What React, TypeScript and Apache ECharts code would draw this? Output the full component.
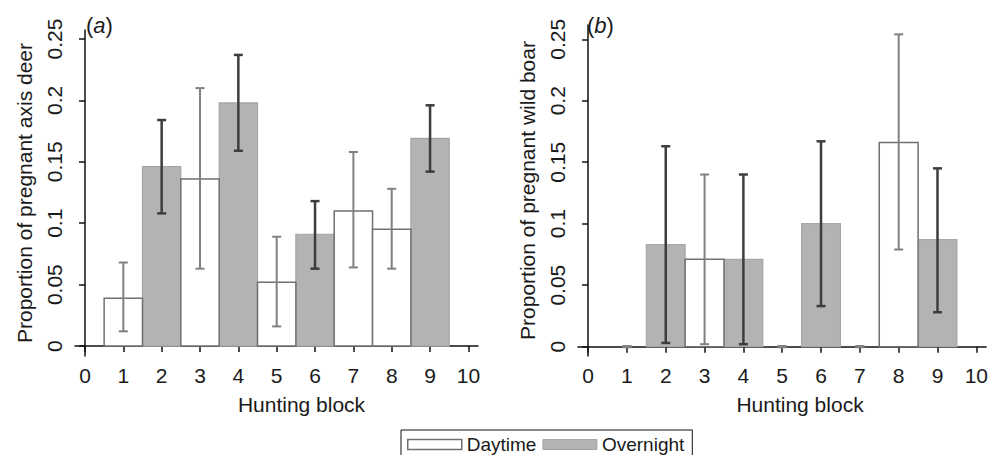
import React, { useEffect, useRef } from "react";
import * as echarts from "echarts";

// Panel (a): axis deer
const aDayBlocks = [1, 3, 5, 7, 8];
const aDayValues = [0.039, 0.136, 0.052, 0.110, 0.095];
const aDayLow = [0.012, 0.063, 0.016, 0.064, 0.063];
const aDayHigh = [0.068, 0.210, 0.089, 0.158, 0.128];

const aNightBlocks = [2, 4, 6, 9];
const aNightValues = [0.146, 0.198, 0.091, 0.169];
const aNightLow = [0.108, 0.159, 0.063, 0.142];
const aNightHigh = [0.184, 0.237, 0.118, 0.196];

// Panel (b): wild boar
const bDayBlocks = [1, 3, 5, 7, 8];
const bDayValues = [0, 0.071, 0, 0, 0.166];
const bDayLow = [0, 0.002, 0, 0, 0.079];
const bDayHigh = [0, 0.140, 0, 0, 0.254];

const bNightBlocks = [2, 4, 6, 9];
const bNightValues = [0.083, 0.071, 0.100, 0.087];
const bNightLow = [0.003, 0.002, 0.033, 0.028];
const bNightHigh = [0.163, 0.140, 0.167, 0.145];

const xTicks = [0, 1, 2, 3, 4, 5, 6, 7, 8, 9, 10];
const yTicks = [0, 0.05, 0.1, 0.15, 0.2, 0.25];

const FONT = "'Liberation Sans', Arial, Helvetica, sans-serif";
const TXT = "#1a1a1a";
const DAY_STROKE = "#707070";
const NIGHT_FILL = "#b3b3b3";
const NIGHT_STROKE = "#a6a6a6";
const DAY_ERR = "#808080";
const NIGHT_ERR = "#3d3d3d";
const TICK_FS = 21;
const TITLE_FS = 21;
const LEGEND_FS = 19;

const barRender = (fill: string, stroke: string, lw: number) => (params: any, api: any) => {
  const x = api.value(0);
  const y = api.value(1);
  if (!(y > 0)) return null;
  const p1 = api.coord([x - 0.5, y]);
  const p2 = api.coord([x + 0.5, 0]);
  return {
    type: "rect",
    shape: { x: p1[0], y: p1[1], width: p2[0] - p1[0], height: p2[1] - p1[1] },
    style: { fill, stroke, lineWidth: lw },
  };
};

const errRender = (color: string, lw: number) => (params: any, api: any) => {
  const x = api.value(0);
  const lo = api.coord([x, api.value(1)]);
  const hi = api.coord([x, api.value(2)]);
  const cw = 4.5;
  const flat = Math.abs(hi[1] - lo[1]) < 0.5;
  const st = { stroke: color, lineWidth: flat ? lw + 1 : lw };
  return {
    type: "group",
    children: [
      { type: "line", shape: { x1: lo[0], y1: lo[1], x2: hi[0], y2: hi[1] }, style: st },
      { type: "line", shape: { x1: lo[0] - cw, y1: lo[1], x2: lo[0] + cw, y2: lo[1] }, style: st },
      { type: "line", shape: { x1: hi[0] - cw, y1: hi[1], x2: hi[0] + cw, y2: hi[1] }, style: st },
    ],
  };
};

const zip2 = (xs: number[], ys: number[]) => xs.map((x, i) => [x, ys[i]]);
const zip3 = (xs: number[], lo: number[], hi: number[]) => xs.map((x, i) => [x, lo[i], hi[i]]);

const xAxisDef = (gridIndex: number, shift: number) => ({
  type: "value",
  gridIndex,
  min: -0.26,
  max: 10.25,
  name: "Hunting block",
  nameLocation: "middle",
  nameGap: 38,
  nameTextStyle: { fontSize: TITLE_FS, color: TXT, fontFamily: FONT, padding: [0, 0, 0, shift] },
  splitLine: { show: false },
  axisLine: { show: true, lineStyle: { color: "#111", width: 1.5 } },
  axisTick: { show: true, length: 6, customValues: xTicks, lineStyle: { color: "#111", width: 1.5 } },
  axisLabel: { customValues: xTicks, fontSize: TICK_FS, color: TXT, fontFamily: FONT, margin: 9 },
});

const yAxisDef = (gridIndex: number, name: string, min: number, max: number) => ({
  type: "value",
  gridIndex,
  min,
  max,
  name,
  nameLocation: "middle",
  nameRotate: 90,
  nameGap: 40,
  nameTextStyle: { fontSize: TITLE_FS, color: TXT, fontFamily: FONT },
  splitLine: { show: false },
  axisLine: { show: true, lineStyle: { color: "#111", width: 1.5 } },
  axisTick: { show: true, length: 6, customValues: yTicks, lineStyle: { color: "#111", width: 1.5 } },
  axisLabel: {
    customValues: yTicks,
    rotate: 90,
    fontSize: TICK_FS,
    color: TXT,
    fontFamily: FONT,
    margin: 10,
    formatter: (v: number) => String(Math.round(v * 100) / 100),
  },
});

const panelLabel = (letter: string, left: number) => ({
  type: "text",
  left,
  top: 14,
  style: {
    text: `({i|${letter}})`,
    fontSize: 22,
    fontFamily: FONT,
    fill: TXT,
    rich: { i: { fontStyle: "italic", fontSize: 22, fontFamily: FONT, fill: TXT } },
  },
});

export default function App() {
  const ref = useRef<HTMLDivElement>(null);
  useEffect(() => {
    if (!ref.current) return;
    const chart = echarts.init(ref.current, undefined, { renderer: "svg" });
    const option: any = {
      animation: false,
      backgroundColor: "#ffffff",
      textStyle: { fontFamily: FONT },
      grid: [
        { left: 75, right: 513, top: 30, bottom: 99 },
        { left: 578, right: 3, top: 25, bottom: 99 },
      ],
      xAxis: [xAxisDef(0, 50), xAxisDef(1, 36)],
      yAxis: [
        yAxisDef(0, "Proportion of pregnant axis deer", -0.0081, 0.2573),
        yAxisDef(1, "Proportion of pregnant wild boar", -0.0076, 0.2616),
      ],
      legend: {
        left: 401,
        top: 430,
        selectedMode: false,
        icon: "rect",
        itemWidth: 54,
        itemHeight: 10,
        itemGap: 6,
        padding: [5, 8, 8, 6],
        borderColor: "#111",
        borderWidth: 1,
        textStyle: { fontSize: LEGEND_FS, color: TXT, fontFamily: FONT },
        data: [
          { name: "Daytime", itemStyle: { color: "#ffffff", borderColor: DAY_STROKE, borderWidth: 1.5 } },
          { name: "Overnight", itemStyle: { color: NIGHT_FILL, borderColor: NIGHT_STROKE, borderWidth: 1 } },
        ],
      },
      graphic: [panelLabel("a", 86), panelLabel("b", 587)],
      series: [
        {
          name: "Overnight",
          type: "custom",
          xAxisIndex: 0,
          yAxisIndex: 0,
          itemStyle: { color: NIGHT_FILL },
          renderItem: barRender(NIGHT_FILL, NIGHT_STROKE, 1.2),
          encode: { x: 0, y: 1 },
          data: zip2(aNightBlocks, aNightValues),
        },
        {
          name: "Daytime",
          type: "custom",
          xAxisIndex: 0,
          yAxisIndex: 0,
          itemStyle: { color: "#fff" },
          renderItem: barRender("#ffffff", DAY_STROKE, 1.5),
          encode: { x: 0, y: 1 },
          data: zip2(aDayBlocks, aDayValues),
        },
        {
          name: "Overnight CI (a)",
          type: "custom",
          xAxisIndex: 0,
          yAxisIndex: 0,
          renderItem: errRender(NIGHT_ERR, 2.5),
          encode: { x: 0, y: [1, 2] },
          data: zip3(aNightBlocks, aNightLow, aNightHigh),
        },
        {
          name: "Daytime CI (a)",
          type: "custom",
          xAxisIndex: 0,
          yAxisIndex: 0,
          renderItem: errRender(DAY_ERR, 2),
          encode: { x: 0, y: [1, 2] },
          data: zip3(aDayBlocks, aDayLow, aDayHigh),
        },
        {
          name: "Overnight",
          type: "custom",
          xAxisIndex: 1,
          yAxisIndex: 1,
          itemStyle: { color: NIGHT_FILL },
          renderItem: barRender(NIGHT_FILL, NIGHT_STROKE, 1.2),
          encode: { x: 0, y: 1 },
          data: zip2(bNightBlocks, bNightValues),
        },
        {
          name: "Daytime",
          type: "custom",
          xAxisIndex: 1,
          yAxisIndex: 1,
          itemStyle: { color: "#fff" },
          renderItem: barRender("#ffffff", DAY_STROKE, 1.5),
          encode: { x: 0, y: 1 },
          data: zip2(bDayBlocks, bDayValues),
        },
        {
          name: "Overnight CI (b)",
          type: "custom",
          xAxisIndex: 1,
          yAxisIndex: 1,
          renderItem: errRender(NIGHT_ERR, 2.5),
          encode: { x: 0, y: [1, 2] },
          data: zip3(bNightBlocks, bNightLow, bNightHigh),
        },
        {
          name: "Daytime CI (b)",
          type: "custom",
          xAxisIndex: 1,
          yAxisIndex: 1,
          renderItem: errRender(DAY_ERR, 2),
          encode: { x: 0, y: [1, 2] },
          data: zip3(bDayBlocks, bDayLow, bDayHigh),
        },
      ],
    };
    chart.setOption(option);
    return () => chart.dispose();
  }, []);
  return (
    <div
      ref={ref}
      style={{ position: "fixed", left: 0, top: 0, width: 991, height: 455, background: "#fff" }}
    />
  );
}
